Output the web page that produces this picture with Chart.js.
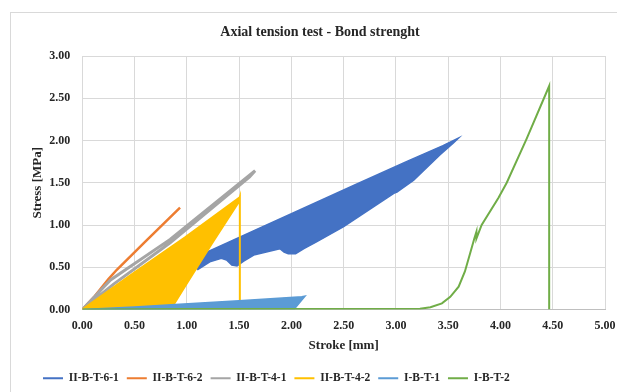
<!DOCTYPE html>
<html>
<head>
<meta charset="utf-8">
<script src="https://cdn.jsdelivr.net/npm/chart.js@4.4.1/dist/chart.umd.min.js"></script>
<style>
  html, body { margin: 0; padding: 0; background: #fff; overflow: hidden; }
  #frame { position: absolute; left: 10px; top: 12px; width: 640px; height: 420px; border: 1px solid #d9d9d9; }
  #chart { position: absolute; left: 0; top: 0; }
</style>
</head>
<body>
<div id="frame"></div>
<canvas id="chart" width="617" height="392"></canvas>
<script>
// Series outlines (stroke in mm, stress in MPa)
const seriesNames = ["II-B-T-6-1", "II-B-T-6-2", "II-B-T-4-1", "II-B-T-4-2", "I-B-T-1", "I-B-T-2"];
const seriesColors = ["#4472c4", "#ed7d31", "#a5a5a5", "#ffc000", "#5b9bd5", "#70ad47"];

// II-B-T-6-1 : dense hysteresis band, traced as its outline
const b61X = [1.10, 1.13, 1.60, 2.10, 2.60, 3.10, 3.45, 3.60, 3.55, 3.42, 3.17, 3.01, 2.98, 2.50, 2.24, 2.12, 2.04, 1.97, 1.93, 1.89, 1.64, 1.54, 1.48, 1.43, 1.38, 1.33, 1.22, 1.10];
const b61Y = [0.47, 0.645, 0.91, 1.19, 1.47, 1.75, 1.94, 2.03, 1.97, 1.83, 1.53, 1.39, 1.375, 0.98, 0.80, 0.72, 0.66, 0.66, 0.68, 0.72, 0.645, 0.57, 0.515, 0.525, 0.585, 0.605, 0.565, 0.47];

// II-B-T-6-2
const b62X = [0, 0.12, 0.25, 0.33, 0.60, 0.935];
const b62Y = [0, 0.16, 0.36, 0.47, 0.80, 1.205];

// II-B-T-4-1
const b41X = [0, 0.27, 0.84, 1.653, 1.60, 0.84, 0.30, 0];
const b41Y = [0, 0.35, 0.83, 1.643, 1.57, 0.79, 0.30, 0];

// II-B-T-4-2 : filled loops plus the final drop
const b42X = [0, 0.45, 0.87, 0.98, 1.24, 1.49, 1.507, 1.507, 1.507, 0.98, 0.50, 0];
const b42Y = [0, 0.03, 0.05, 0.27, 0.78, 1.26, 1.33, 0.0, 1.33, 0.85, 0.44, 0];

// I-B-T-1
const b1X = [0, 0.50, 0.93, 1.50, 2.10, 2.13, 2.03, 1.00, 0];
const b1Y = [0, 0.03, 0.062, 0.105, 0.150, 0.158, 0.01, 0.005, 0];

// I-B-T-2
const b2X = [0, 1.00, 2.00, 3.23, 3.33, 3.44, 3.52, 3.60, 3.66, 3.71, 3.75, 3.77, 3.77, 3.82, 3.98, 4.06, 4.25, 4.466, 4.466];
const b2Y = [0, 0.005, 0.005, 0.01, 0.026, 0.073, 0.15, 0.27, 0.45, 0.665, 0.84, 0.92, 0.84, 1.00, 1.32, 1.50, 2.02, 2.645, 0.0];

const xTicks = { min: 0, max: 5, step: 0.5 };
const yTicks = { min: 0, max: 3, step: 0.5 };

function pts(xs, ys) {
  return xs.map((x, i) => ({ x: x, y: ys[i] }));
}

const seriesData = [
  pts(b61X, b61Y), pts(b62X, b62Y), pts(b41X, b41Y),
  pts(b42X, b42Y), pts(b1X, b1Y), pts(b2X, b2Y)
];
const filled = [true, false, false, true, true, false];
const widths = [1.5, 2.5, 3, 2, 1.5, 2];

const serif = "'Liberation Serif', 'Times New Roman', serif";
const textColor = "#262626";

const datasets = seriesData.map((data, i) => ({
  label: seriesNames[i],
  data: data,
  borderColor: seriesColors[i],
  backgroundColor: seriesColors[i],
  borderWidth: widths[i],
  fill: filled[i] ? "shape" : false,
  pointRadius: 0,
  tension: 0,
  order: seriesNames.length - i   // later series drawn on top, like the original
}));

new Chart(document.getElementById("chart"), {
  type: "line",
  data: { datasets: datasets },
  options: {
    responsive: false,
    animation: false,
    devicePixelRatio: 1,
    layout: { padding: { left: 35, right: 12, top: 0, bottom: -2 } },
    plugins: {
      title: {
        display: true,
        text: "Axial tension test - Bond strenght",
        color: textColor,
        font: { family: serif, size: 14, weight: "bold" },
        padding: { top: 24, bottom: 15.2 }
      },
      legend: {
        position: "bottom",
        align: "start",
        labels: {
          color: textColor,
          font: { family: serif, size: 11.5, weight: "bold" },
          boxWidth: 20,
          boxHeight: 2,
          padding: 8,
          sort: (a, b) => a.datasetIndex - b.datasetIndex,
          generateLabels: chart => Chart.defaults.plugins.legend.labels.generateLabels(chart).map(item => {
            item.fillStyle = item.strokeStyle;
            item.lineWidth = 0;
            return item;
          })
        }
      },
      tooltip: { enabled: false }
    },
    scales: {
      x: {
        type: "linear",
        min: xTicks.min,
        max: xTicks.max,
        afterFit: scale => {
          scale.height = 55;
          scale.paddingRight = 0;
        },
        ticks: {
          stepSize: xTicks.step,
          padding: 9,
          color: textColor,
          font: { family: serif, size: 12, weight: "bold" },
          callback: v => v.toFixed(2)
        },
        grid: { color: "#d9d9d9", drawTicks: false },
        border: { color: "#bfbfbf" },
        title: {
          display: true,
          text: "Stroke [mm]",
          color: textColor,
          font: { family: serif, size: 13, weight: "bold" },
          padding: { top: 10.7, bottom: 10.7 }
        }
      },
      y: {
        min: yTicks.min,
        max: yTicks.max,
        afterFit: scale => { scale.width = 47.3; },
        ticks: {
          stepSize: yTicks.step,
          padding: 12,
          color: textColor,
          font: { family: serif, size: 12, weight: "bold" },
          callback: v => v.toFixed(2)
        },
        grid: { color: "#d9d9d9", drawTicks: false },
        border: { color: "#d9d9d9" },
        title: {
          display: true,
          text: "Stress [MPa]",
          color: textColor,
          font: { family: serif, size: 13, weight: "bold" },
          padding: { top: -4.8, bottom: 0 }
        }
      }
    }
  }
});
</script>
</body>
</html>
